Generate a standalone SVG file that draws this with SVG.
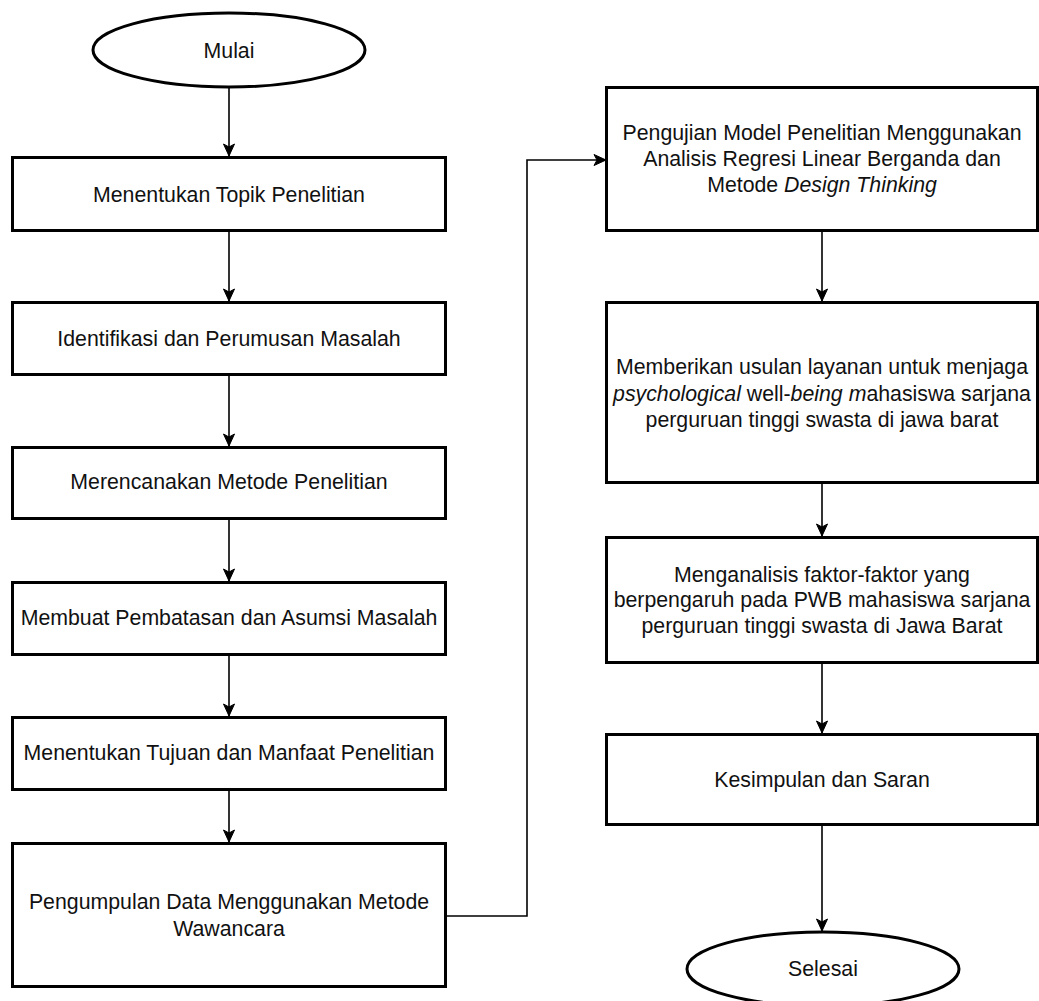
<svg xmlns="http://www.w3.org/2000/svg" width="1039" height="1001" viewBox="0 0 1039 1001">
<style>
.box{fill:#fff;stroke:#000;stroke-width:3}
.conn{fill:none;stroke:#000;stroke-width:1.6}
.t{font-family:"Liberation Sans",Arial,sans-serif;font-size:21.3px;fill:#111;text-anchor:middle}
.i{font-style:italic}
</style>
<defs>
<marker id="arr" markerUnits="userSpaceOnUse" markerWidth="14" markerHeight="14" viewBox="0 0 14 14" refX="13" refY="7" orient="auto">
<path d="M1,1.5 L13,7 L1,12.5 L4,7 z" fill="#000" stroke="#000" stroke-width="1"/>
</marker>
</defs>
<rect width="1039" height="1001" fill="#fff"/>
<g id="connectors">
<path class="conn" d="M229,88 V156" marker-end="url(#arr)"/>
<path class="conn" d="M229,232 V301" marker-end="url(#arr)"/>
<path class="conn" d="M229,376 V446" marker-end="url(#arr)"/>
<path class="conn" d="M229,519 V581" marker-end="url(#arr)"/>
<path class="conn" d="M229,655 V716" marker-end="url(#arr)"/>
<path class="conn" d="M229,790 V842" marker-end="url(#arr)"/>
<path class="conn" d="M447,916 H527 V160 H606" marker-end="url(#arr)"/>
<path class="conn" d="M822,232 V301" marker-end="url(#arr)"/>
<path class="conn" d="M822,483 V536" marker-end="url(#arr)"/>
<path class="conn" d="M822,664 V733" marker-end="url(#arr)"/>
<path class="conn" d="M822,826 V931" marker-end="url(#arr)"/>
</g>
<g id="mulai">
<ellipse class="box" cx="229" cy="50" rx="136" ry="37"/>
<text class="t" x="229" y="58">Mulai</text>
</g>
<g id="topik">
<rect class="box" x="12.5" y="157.5" width="433" height="73"/>
<text class="t" x="229" y="202">Menentukan Topik Penelitian</text>
</g>
<g id="identifikasi">
<rect class="box" x="12.5" y="302.5" width="433" height="72"/>
<text class="t" x="229" y="346">Identifikasi dan Perumusan Masalah</text>
</g>
<g id="metode">
<rect class="box" x="12.5" y="447.5" width="433" height="71"/>
<text class="t" x="229" y="489">Merencanakan Metode Penelitian</text>
</g>
<g id="pembatasan">
<rect class="box" x="12.5" y="582.5" width="433" height="72"/>
<text class="t" x="229" y="625">Membuat Pembatasan dan Asumsi Masalah</text>
</g>
<g id="tujuan">
<rect class="box" x="12.5" y="717.5" width="433" height="72"/>
<text class="t" x="229" y="760">Menentukan Tujuan dan Manfaat Penelitian</text>
</g>
<g id="pengumpulan">
<rect class="box" x="12.5" y="843.5" width="433" height="143"/>
<text class="t" x="229" y="909">Pengumpulan Data Menggunakan Metode</text>
<text class="t" x="229" y="936">Wawancara</text>
</g>
<g id="pengujian">
<rect class="box" x="606.5" y="87.5" width="431" height="143"/>
<text class="t" x="822" y="140">Pengujian Model Penelitian Menggunakan</text>
<text class="t" x="822" y="166">Analisis Regresi Linear Berganda dan</text>
<text class="t" x="822" y="192">Metode <tspan class="i">Design Thinking</tspan></text>
</g>
<g id="usulan">
<rect class="box" x="606.5" y="302.5" width="431" height="180"/>
<text class="t" x="822" y="374">Memberikan usulan layanan untuk menjaga</text>
<text class="t" x="822" y="401"><tspan class="i">psychological</tspan> well-<tspan class="i">being m</tspan>ahasiswa sarjana</text>
<text class="t" x="822" y="427">perguruan tinggi swasta di jawa barat</text>
</g>
<g id="analisis">
<rect class="box" x="606.5" y="537.5" width="431" height="125"/>
<text class="t" x="822" y="582">Menganalisis faktor-faktor yang</text>
<text class="t" x="822" y="607">berpengaruh pada PWB mahasiswa sarjana</text>
<text class="t" x="822" y="633">perguruan tinggi swasta di Jawa Barat</text>
</g>
<g id="kesimpulan">
<rect class="box" x="606.5" y="734.5" width="431" height="90"/>
<text class="t" x="822" y="787">Kesimpulan dan Saran</text>
</g>
<g id="selesai">
<ellipse class="box" cx="823" cy="969" rx="136" ry="37"/>
<text class="t" x="823" y="976">Selesai</text>
</g>
</svg>
